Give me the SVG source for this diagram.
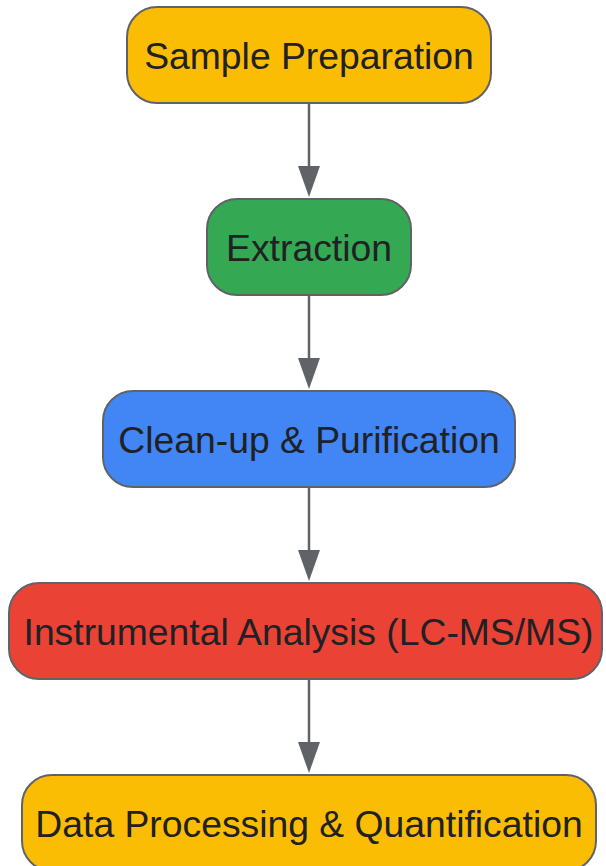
<svg xmlns="http://www.w3.org/2000/svg" width="606" height="866" viewBox="0 0 606 866">
<style>
.n{stroke:#5f6368;stroke-width:2}
.t{font-family:"Liberation Sans",Arial,sans-serif;font-size:37.3px;fill:#202124;text-anchor:middle}
.e{stroke:#5f6368;stroke-width:2.5;fill:none}
.a{fill:#5f6368}
</style>
<rect width="606" height="866" fill="#ffffff"/>
<g id="edges">
<path class="e" d="M309,103 V166" />
<path class="a" d="M298,166 L320,166 L309,197 Z"/>
<path class="e" d="M309,295 V358" />
<path class="a" d="M298,358 L320,358 L309,389 Z"/>
<path class="e" d="M309,487 V550" />
<path class="a" d="M298,550 L320,550 L309,581 Z"/>
<path class="e" d="M309,679 V742" />
<path class="a" d="M298,742 L320,742 L309,773 Z"/>
</g>
<g id="n1"><rect class="n" x="127" y="7" width="364" height="96" rx="30" fill="#FBBC04"/><text class="t" x="309" y="68.5">Sample Preparation</text></g>
<g id="n2"><rect class="n" x="207" y="199" width="204" height="96" rx="30" fill="#34A853"/><text class="t" x="309" y="260.5">Extraction</text></g>
<g id="n3"><rect class="n" x="103" y="391" width="412" height="96" rx="30" fill="#4285F4"/><text class="t" x="309" y="452.5">Clean-up &amp; Purification</text></g>
<g id="n4"><rect class="n" x="9" y="583" width="593" height="96" rx="30" fill="#EA4335"/><text class="t" x="308.5" y="644.5">Instrumental Analysis (LC-MS/MS)</text></g>
<g id="n5"><rect class="n" x="22" y="775" width="574" height="96" rx="30" fill="#FBBC04"/><text class="t" x="309" y="836.5">Data Processing &amp; Quantification</text></g>
</svg>
